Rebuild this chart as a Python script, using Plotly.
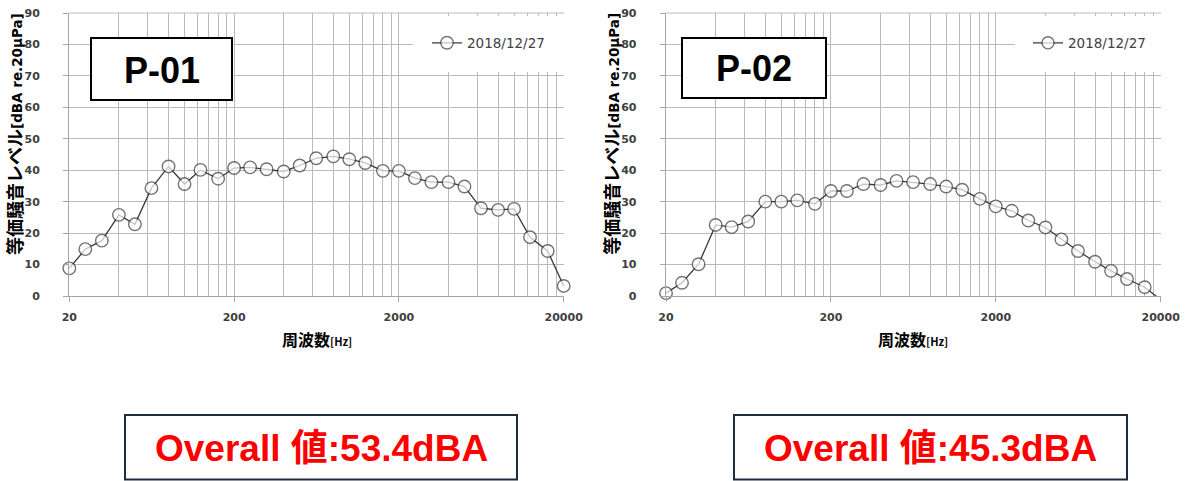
import math
import plotly.graph_objects as go

# ---------------- data ----------------
freqs = [20, 25, 31.5, 40, 50, 63, 80, 100, 125, 160, 200, 250, 315, 400, 500,
         630, 800, 1000, 1250, 1600, 2000, 2500, 3150, 4000, 5000, 6300, 8000,
         10000, 12500, 16000, 20000]
p01 = [8.8, 14.9, 17.6, 25.8, 22.8, 34.3, 41.2, 35.6, 40.1, 37.3, 40.7, 40.9,
       40.3, 39.6, 41.5, 43.8, 44.4, 43.5, 42.3, 39.8, 39.8, 37.5, 36.2, 36.2,
       34.8, 27.9, 27.4, 27.7, 18.7, 14.3, 3.2]
p02 = [0.9, 4.2, 10.1, 22.6, 21.9, 23.7, 30.0, 30.0, 30.4, 29.3, 33.4, 33.4,
       35.6, 35.3, 36.6, 36.2, 35.6, 34.8, 33.8, 30.9, 28.5, 27.1, 24.0, 21.8,
       18.0, 14.3, 10.9, 8.0, 5.4, 2.8, -1.2]
series_name = "2018/12/27"
point_labels = ["P-01", "P-02"]
overall_texts = ["Overall 値:53.4dBA", "Overall 値:45.3dBA"]
x_major = [20, 200, 2000, 20000]
x_major_text = ["20", "200", "2000", "20000"]
x_minor = [20, 40, 60, 80, 100, 120, 140, 160, 180,
           200, 400, 600, 800, 1000, 1200, 1400, 1600, 1800,
           2000, 4000, 6000, 8000, 10000, 12000, 14000, 16000, 18000]
y_title = ("<b>等価騒音レベル</b><span style='font-size:13.5px;font-family:DejaVu Sans'>"
           "<b>[dBA re.20μPa]</b></span>")
x_title = "<b>周波数</b><span style='font-size:11px'><b>[Hz]</b></span>"

# ---------------- geometry helpers ----------------
W, H = 1194, 481
def px(x):
    return x / W
def py(y):
    return 1 - y / H

GRID = "#bababa"
LINE = "#3a3a3a"
TICKC = "#404040"
JP = "Noto Sans CJK JP"

fig = go.Figure()

panels = [
    dict(vals=p01, xa="x", ya="y", leg="legend", x0=69, x1=564),
    dict(vals=p02, xa="x2", ya="y2", leg="legend2", x0=665.7, x1=1161),
]

for i, p in enumerate(panels):
    sizes = [0 if v < 0 else 12.5 for v in p["vals"]]
    fig.add_trace(go.Scatter(
        x=freqs, y=p["vals"], name=series_name, mode="lines+markers",
        xaxis=p["xa"], yaxis=p["ya"], legend=p["leg"], cliponaxis=False,
        showlegend=True,
        line=dict(color=LINE, width=1.3),
        marker=dict(symbol="circle", size=sizes, color="white",
                    line=dict(color=LINE, width=1.4)),
    ))

axis_common_x = dict(
    type="log", range=[math.log10(20) - 0.002, math.log10(20000) + 0.002],
    tickvals=x_major, ticktext=x_major_text,
    showgrid=True, gridcolor=GRID, gridwidth=1,
    minor=dict(tickvals=x_minor, showgrid=True, gridcolor=GRID, gridwidth=1, ticks=""),
    showline=True, linecolor="#a6a6a6", linewidth=1,
    ticks="outside", ticklen=5, tickcolor="#a6a6a6",
    tickfont=dict(family="DejaVu Sans", size=11, color=TICKC, weight="bold"),
    ticklabelstandoff=6, automargin=False, zeroline=False,
)
axis_common_y = dict(
    range=[0, 90], dtick=10, tick0=0,
    showgrid=True, gridcolor=GRID, gridwidth=1,
    showline=True, linecolor="#a6a6a6", linewidth=1,
    ticks="outside", ticklen=5, tickcolor="#a6a6a6",
    tickfont=dict(family="DejaVu Sans", size=11, color=TICKC, weight="bold"),
    ticklabelstandoff=21, automargin=False, zeroline=False,
    domain=[py(296), py(13)],
)

fig.update_layout(
    width=W, height=H, margin=dict(l=0, r=0, t=0, b=0),
    paper_bgcolor="white", plot_bgcolor="white", showlegend=True,
    xaxis=dict(axis_common_x, domain=[px(69), px(564)], anchor="y"),
    yaxis=dict(axis_common_y, anchor="x"),
    xaxis2=dict(axis_common_x, domain=[px(665.7), px(1161)], anchor="y2"),
    yaxis2=dict(axis_common_y, anchor="x2"),
    legend=dict(x=px(427), y=py(43), xanchor="left", yanchor="middle",
                bgcolor="rgba(0,0,0,0)",
                font=dict(family="DejaVu Sans", size=13.5, color="#404040")),
    legend2=dict(x=px(1028), y=py(43), xanchor="left", yanchor="middle",
                 bgcolor="rgba(0,0,0,0)",
                 font=dict(family="DejaVu Sans", size=13.5, color="#404040")),
)

shapes = []
annotations = []
label_boxes = [(91, 232, 38, 100), (682, 826, 38, 98)]
overall_boxes = [(125, 517, 415, 479.5), (734, 1127, 415, 479.5)]
legend_cover = [(413, 567), (1015, 1164)]

for i, p in enumerate(panels):
    # white area behind legend (covers grid)
    a, b = legend_cover[i]
    shapes.append(dict(type="rect", xref="paper", yref="paper", x0=px(a), x1=px(b),
                       y0=py(72), y1=py(16), fillcolor="white", line=dict(width=0),
                       layer="above"))
    # top border line across the plot (90 grid line)
    shapes.append(dict(type="line", xref="paper", yref="paper", x0=px(p["x0"]), x1=px(p["x1"]),
                       y0=py(13), y1=py(13), line=dict(color=GRID, width=1), layer="above"))
    # label box
    l, r, t, bt = label_boxes[i]
    shapes.append(dict(type="rect", xref="paper", yref="paper", x0=px(l), x1=px(r),
                       y0=py(bt), y1=py(t), fillcolor="white",
                       line=dict(color="black", width=2), layer="above"))
    annotations.append(dict(xref="paper", yref="paper", x=px((l + r) / 2), y=py((t + bt) / 2 + 1),
                            text="<b>%s</b>" % point_labels[i], showarrow=False,
                            xanchor="center", yanchor="middle",
                            font=dict(family="Liberation Sans", size=36, color="black")))
    # overall box
    l, r, t, bt = overall_boxes[i]
    shapes.append(dict(type="rect", xref="paper", yref="paper", x0=px(l), x1=px(r),
                       y0=py(bt), y1=py(t), fillcolor="white",
                       line=dict(color="#1f2d3a", width=2), layer="above"))
    annotations.append(dict(xref="paper", yref="paper", x=px((l + r) / 2), y=py(448),
                            text="<b>%s</b>" % overall_texts[i], showarrow=False,
                            xanchor="center", yanchor="middle",
                            font=dict(family="Liberation Sans, " + JP, size=37, color="#ff0000")))
    # axis titles
    annotations.append(dict(xref="paper", yref="paper", x=px(p["x0"] - 55), y=py(134),
                            text=y_title, showarrow=False, textangle=-90,
                            xanchor="center", yanchor="middle",
                            font=dict(family=JP, size=18, color="black")))
    annotations.append(dict(xref="paper", yref="paper", x=px((p["x0"] + p["x1"]) / 2), y=py(339),
                            text=x_title, showarrow=False,
                            xanchor="center", yanchor="middle",
                            font=dict(family=JP, size=16, color="black")))

fig.update_layout(shapes=shapes, annotations=annotations)
fig.write_html("out.html", config={"displayModeBar": False},
               post_script="document.body.style.margin='0';document.body.style.overflow='hidden';")
